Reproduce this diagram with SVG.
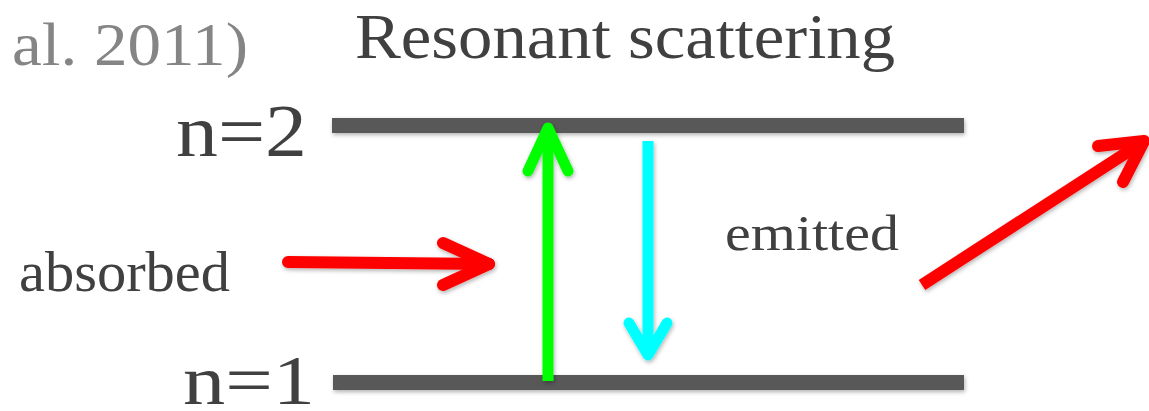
<svg xmlns="http://www.w3.org/2000/svg" width="1149" height="411" viewBox="0 0 1149 411">
<style>
.t{font-family:"Liberation Serif","DejaVu Serif",serif;fill:#404040}
.g{font-family:"Liberation Serif","DejaVu Serif",serif;fill:#858585}
.bar{stroke:#595959;stroke-width:15;fill:none}
.arr{fill:none;stroke-linecap:round;stroke-linejoin:round}
</style>
<defs>
<filter id="sh" x="-10%" y="-50%" width="120%" height="200%">
<feDropShadow dx="1" dy="2" stdDeviation="2" flood-color="#000" flood-opacity="0.3"/>
</filter>
</defs>
<rect width="1149" height="411" fill="#fff"/>
<g id="caption"><text class="g" x="12" y="65" font-size="62" textLength="236" lengthAdjust="spacingAndGlyphs">al. 2011)</text></g>
<g id="title"><text class="t" x="355" y="58" font-size="64" textLength="540" lengthAdjust="spacingAndGlyphs">Resonant scattering</text></g>
<g id="level2">
<rect x="332" y="118" width="632" height="15" fill="#595959" filter="url(#sh)"/>
<text class="t" x="176" y="156" font-size="74" textLength="131" lengthAdjust="spacingAndGlyphs">n=2</text>
</g>
<g id="level1">
<rect x="333" y="375" width="631" height="15" fill="#595959" filter="url(#sh)"/>
<text class="t" x="183" y="404" font-size="70" textLength="132" lengthAdjust="spacingAndGlyphs">n=1</text>
</g>
<g id="absorbed-label"><text class="t" x="19" y="291" font-size="56" textLength="211" lengthAdjust="spacingAndGlyphs">absorbed</text></g>
<g id="emitted-label"><text class="t" x="725" y="250" font-size="50" textLength="174" lengthAdjust="spacingAndGlyphs">emitted</text></g>
<g id="connectors" filter="url(#sh)">
<g class="arr" stroke="#ff0000" stroke-width="12">
<path d="M288 262 L489 264"/>
<path d="M443 243 L489 264 L443 285"/>
</g>
<g class="arr" stroke="#00ff00" stroke-width="11">
<path d="M548 381 L548 130" stroke-linecap="butt"/>
<path d="M528 171 L548 128 L568 171"/>
</g>
<g class="arr" stroke="#00ffff" stroke-width="11">
<path d="M648 141 L648 350" stroke-linecap="butt"/>
<path d="M629 323 L648 355 L667 323"/>
</g>
<g class="arr" stroke="#ff0000" stroke-width="12">
<path d="M922 285 L1143 142" stroke-linecap="butt"/>
<path d="M1098 146 L1144 141 L1123 182"/>
</g>
</g>
</svg>
